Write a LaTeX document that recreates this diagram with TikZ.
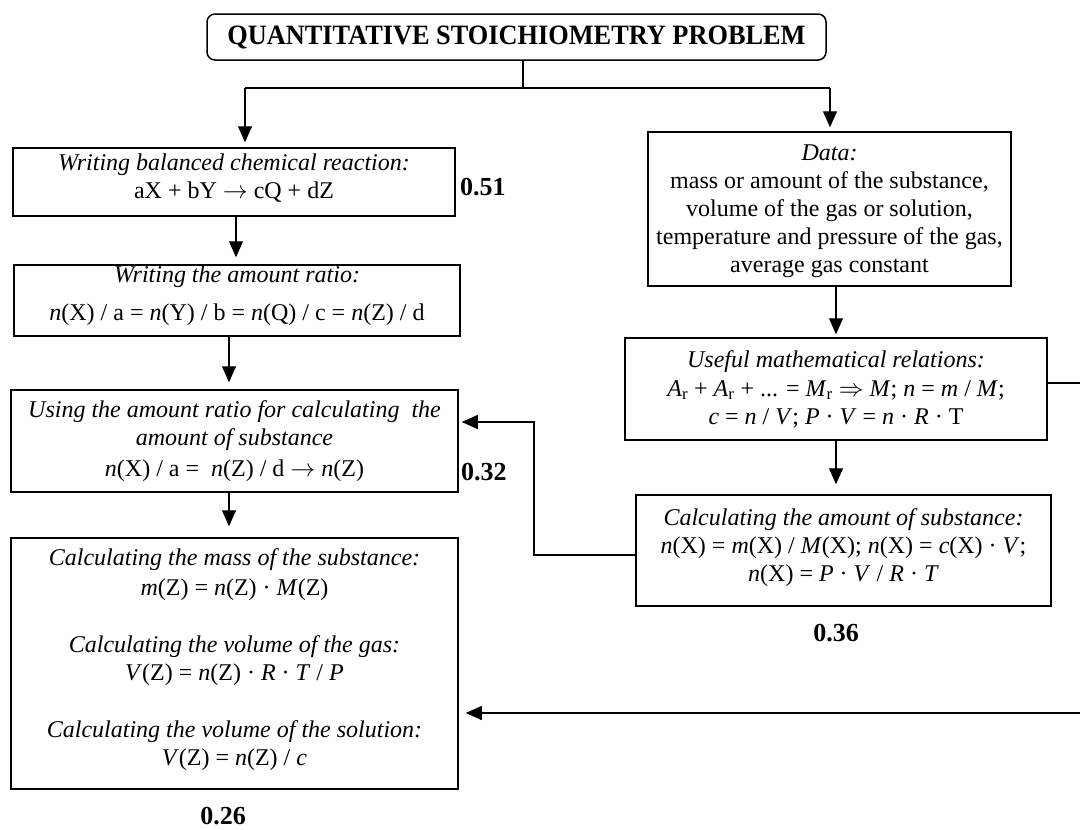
\documentclass[tikz,border=0pt]{standalone}
\usepackage{fontspec}
\setmainfont{Liberation Serif}
\usetikzlibrary{arrows.meta}
\newcommand\iv[1]{\textit{#1}}
\tikzset{
  box/.style={draw, line width=1.5pt, rectangle, inner sep=0pt},
  txt/.style={align=center, font=\fontsize{24}{28}\selectfont, inner sep=0pt},
  num/.style={font=\fontsize{26}{28}\selectfont\bfseries, inner sep=0pt},
  ln/.style={line width=1.3pt},
  arr/.style={line width=1.3pt, -{Triangle[width=14pt,length=16pt]}},
}
\begin{document}
\begin{tikzpicture}[x=1pt,y=-1pt]
\useasboundingbox (0,0) rectangle (1080,830);
% boxes (centers and sizes from the reference)
\node[box, rounded corners=8pt, minimum width=619pt, minimum height=46pt,
      font=\fontsize{28}{30}\selectfont\bfseries] (title) at (516.5,37)
      {\addfontfeature{FakeStretch=0.94}QUANTITATIVE STOICHIOMETRY PROBLEM};
\node[box, minimum width=442pt, minimum height=68pt] (b1) at (234,182) {};
\node[box, minimum width=446pt, minimum height=71pt] (b2) at (237,300.5) {};
\node[box, minimum width=447pt, minimum height=102pt] (b3) at (234.5,441) {};
\node[box, minimum width=447pt, minimum height=251pt] (b4) at (234.5,663.5) {};
\node[box, minimum width=363pt, minimum height=154pt] (data) at (829.5,209) {};
\node[box, minimum width=422pt, minimum height=102pt] (useful) at (836,389) {};
\node[box, minimum width=415pt, minimum height=111pt] (calc) at (843.5,550.5) {};
% texts
\node[txt] (t1) at (234,178) {\iv{Writing balanced chemical reaction:}\\
  aX + bY $\rightarrow$ cQ + dZ};
\node[txt] (t2) at (237,296) {\iv{Writing the amount ratio:}\\[10pt]
  \iv{n}(X) / a = \iv{n}(Y) / b = \iv{n}(Q) / c = \iv{n}(Z) / d};
\node[txt] (t3) at (234.5,441) {\iv{Using the amount ratio for calculating\ \ the}\\
  \iv{amount of substance}\\[3pt]
  \iv{n}(X) / a = \ \iv{n}(Z) / d $\rightarrow$ \iv{n}(Z)};
\node[txt] (t4) at (234.5,660) {\iv{Calculating the mass of the substance:}\\[2pt]
  \iv{m}(Z) = \iv{n}(Z) · \iv{M}(Z)\\[29pt]
  \iv{Calculating the volume of the gas:}\\
  \iv{V}(Z) = \iv{n}(Z) · \iv{R} · \iv{T} / \iv{P}\\[29pt]
  \iv{Calculating the volume of the solution:}\\
  \iv{V}(Z) = \iv{n}(Z) / \iv{c}};
\node[txt] (td) at (829.5,211) {\iv{Data:}\\
  mass or amount of the substance,\\
  volume of the gas or solution,\\
  temperature and pressure of the gas,\\
  average gas constant};
\node[txt] (tu) at (836,389) {\iv{Useful mathematical relations:}\\[1pt]
  \iv{A}\textsubscript{r} + \iv{A}\textsubscript{r} + ... = \iv{M}\textsubscript{r} $\Rightarrow$ \iv{M}; \iv{n} = \iv{m} / \iv{M};\\
  \iv{c} = \iv{n} / \iv{V}; \iv{P} · \iv{V} = \iv{n} · \iv{R} · T};
\node[txt] (tc) at (843.5,548) {\iv{Calculating the amount of substance:}\\
  \iv{n}(X) = \iv{m}(X) / \iv{M}(X); \iv{n}(X) = \iv{c}(X) · \iv{V};\\
  \iv{n}(X) = \iv{P} · \iv{V} / \iv{R} · \iv{T}};
% numbers
\node[num, anchor=west] (n1) at (460,187) {0.51};
\node[num, anchor=west] (n2) at (461,472) {0.32};
\node[num] (n3) at (836,633) {0.36};
\node[num] (n4) at (223,816) {0.26};
% connector reference points
\coordinate (s) at (523,88);
\coordinate (sl) at (245,88);
\coordinate (sr) at (830,88);
\coordinate (xa) at (236,0);
\coordinate (xb) at (229,0);
\coordinate (xc) at (836,0);
\coordinate (lx) at (534,422);
\coordinate (ly) at (0,555);
\coordinate (re1) at (1084,383);
\coordinate (re2) at (1084,713);
% connectors
\draw[ln] (title.south -| s) -- (s);
\draw[ln] (sl) -- (sr);
\draw[arr, shorten >=5pt] (sl) -- (sl |- b1.north);
\draw[arr, shorten >=4pt] (sr) -- (sr |- data.north);
\draw[arr, shorten >=7pt] (b1.south -| xa) -- (b2.north -| xa);
\draw[arr, shorten >=7pt] (b2.south -| xb) -- (b3.north -| xb);
\draw[arr, shorten >=11pt] (b3.south -| xb) -- (b4.north -| xb);
\draw[arr, shorten >=3pt] (data.south -| xc) -- (useful.north -| xc);
\draw[arr, shorten >=10pt] (useful.south -| xc) -- (calc.north -| xc);
\draw[arr, shorten >=3pt] (calc.west |- ly) -| (lx) -- (lx -| b3.east);
\draw[ln] (useful.east |- re1) -- (re1) -- (re2);
\draw[arr, shorten >=7pt] (re2) -- (re2 -| b4.east);
\end{tikzpicture}
\end{document}
